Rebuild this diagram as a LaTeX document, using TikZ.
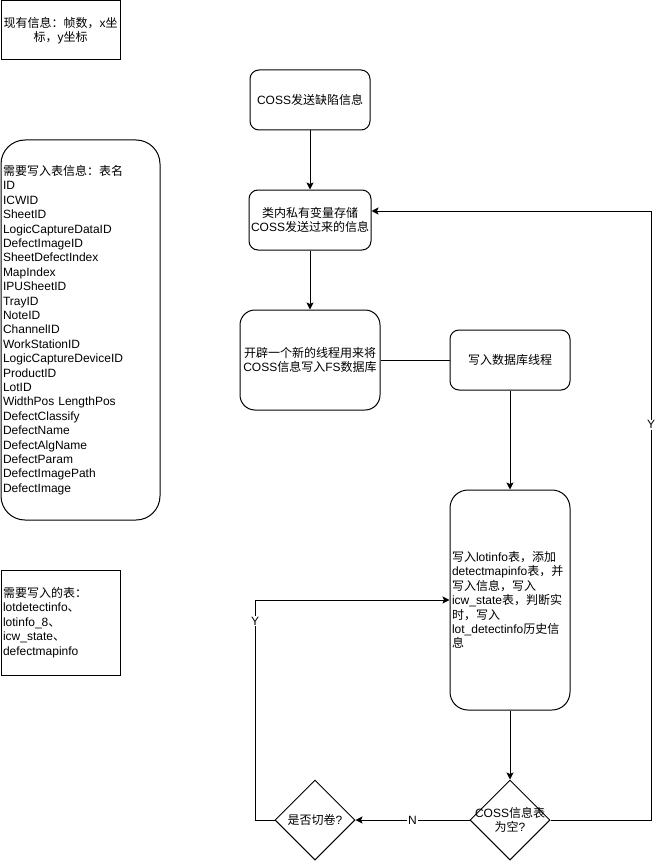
\documentclass[tikz,border=0pt]{standalone}
\usepackage{fontspec}
\setmainfont{Liberation Sans}
\newfontfamily\cjkfont{Noto Sans CJK SC}
\usetikzlibrary{shapes.geometric,arrows.meta}
\XeTeXinterchartokenstate=1
\newXeTeXintercharclass\cjkcls
\makeatletter
\count@="3000
\loop\XeTeXcharclass\count@=\cjkcls\relax\ifnum\count@<"9FFF\advance\count@\@ne\repeat
\count@="FF00
\loop\XeTeXcharclass\count@=\cjkcls\relax\ifnum\count@<"FFEF\advance\count@\@ne\repeat
\makeatother
\XeTeXinterchartoks 0 \cjkcls = {\cjkfont}
\XeTeXinterchartoks 4095 \cjkcls = {\cjkfont}
\XeTeXinterchartoks \cjkcls 0 = {\rmfamily}
\XeTeXinterchartoks \cjkcls 4095 = {\rmfamily}
\tikzset{
  txt/.style={font=\fontsize{12}{14.4}\selectfont},
  shp/.style={txt, draw, line width=1pt, inner ysep=0pt, inner xsep=2pt},
  arr/.style={line width=1pt, -{Stealth[length=7pt,width=7pt,inset=1.5pt]}},
  ln/.style={line width=1pt},
  lab/.style={txt, fill=white, inner sep=1pt},
}
\begin{document}
\begin{tikzpicture}[x=1pt,y=-1pt]
\useasboundingbox (0,0) rectangle (659,861);
% left info boxes
\node[shp, minimum width=119pt, minimum height=59pt, align=center] (info) at (60.5,30.5) {现有信息：帧数，x坐\\标，y坐标};
\node[shp, minimum width=159pt, minimum height=380pt, rounded corners=24pt, text width=155pt, align=left] (fields) at (80.5,330)
 {需要写入表信息：表名\\ID\\ICWID\\SheetID\\LogicCaptureDataID\\DefectImageID\\SheetDefectIndex\\MapIndex\\IPUSheetID\\TrayID\\NoteID\\ChannelID\\WorkStationID\\LogicCaptureDeviceID\\ProductID\\LotID\\WidthPos LengthPos\\DefectClassify\\DefectName\\DefectAlgName\\DefectParam\\DefectImagePath\\DefectImage};
\node[shp, minimum width=119pt, minimum height=105pt, text width=115pt, align=left] (tables) at (60.5,622.5)
 {需要写入的表：\\lotdetectinfo、\\lotinfo\_8、\\icw\_state、\\defectmapinfo};
% flow
\node[shp, minimum width=120pt, minimum height=60pt, rounded corners=9pt, align=center] (coss) at (310,100) {COSS发送缺陷信息};
\node[shp, minimum width=120pt, minimum height=60pt, rounded corners=9pt, align=center] (store) at (310,220) {类内私有变量存储\\COSS发送过来的信息};
\node[shp, minimum width=140pt, minimum height=100pt, rounded corners=15pt, align=center] (thread) at (310,360) {开辟一个新的线程用来将\\COSS信息写入FS数据库};
\node[shp, minimum width=120pt, minimum height=60pt, rounded corners=9pt, align=center] (dbth) at (510,360) {写入数据库线程};
\node[shp, minimum width=120pt, minimum height=220pt, rounded corners=18pt, text width=116pt, align=left] (write) at (510,600)
 {写入lotinfo表，添加\\detectmapinfo表，并\\写入信息，写入\\icw\_state表，判断实\\时，写入\\lot\_detectinfo历史信\\息};
\node[diamond, draw, line width=1pt, aspect=1, minimum width=80pt, minimum height=80pt, inner sep=0pt] (empty) at (510,820) {};
\node[txt, align=center, inner sep=0pt] (emptyt) at (510,820) {COSS信息表\\为空?};
\node[diamond, draw, line width=1pt, aspect=1, minimum width=80pt, minimum height=80pt, inner sep=0pt] (cut) at (315,820) {};
\node[txt, inner sep=0pt] (cutt) at (315,820) {是否切卷?};
% connectors
\draw[arr] (coss.south) -- (store.north);
\draw[arr] (store.south) -- (thread.north);
\draw[ln] (thread.east) -- (dbth.west);
\draw[arr] (dbth.south) -- (write.north);
\draw[arr] (write.south) -- (empty.north);
\coordinate (r1) at (651,820);
\coordinate (r2) at (651,211);
\draw[arr] (empty.east) -- (r1) -- node[lab, pos=0.649] (ylab) {Y} (r2) -- (store.east |- r2);
\draw[arr] (empty.west) -- node[lab, pos=0.5] (nlab) {N} (cut.east);
\coordinate (l1) at (255,820);
\coordinate (l2) at (255,600);
\draw[arr] (cut.west) -- (l1) -- node[lab, pos=0.905] (ylab2) {Y} (l2) -- (write.west);
\end{tikzpicture}
\end{document}
